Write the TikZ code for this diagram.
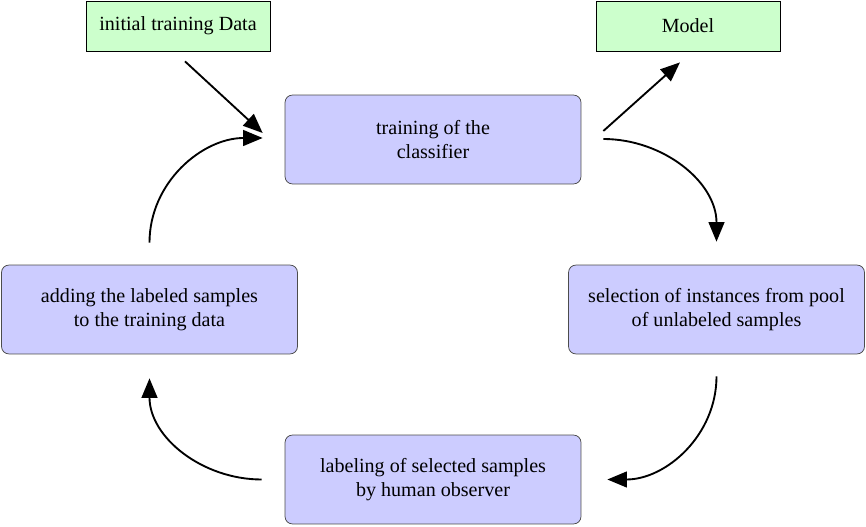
\documentclass[tikz,border=0pt]{standalone}
\usepackage{fontspec}
\setmainfont{Liberation Serif}
\usetikzlibrary{arrows.meta,calc}

\begin{document}
\begin{tikzpicture}
[x=0.5376pt,y=0.5376pt
,every node/.style={font=\fontsize{10.8pt}{12.9pt}\selectfont}
,io/.style={draw=black,fill=green!20,minimum width=98.9pt,minimum height=26.9pt,inner sep=0pt}
,stage/.style={draw=black!70,fill=blue!20,rounded corners=4pt,align=center,minimum width=159.1pt,minimum height=47.8pt,inner sep=0pt}
,flow/.style={draw=black,line width=1pt,arrows={-Triangle[length=10.5pt,width=8.5pt]}}
]
\useasboundingbox (0,0) rectangle (866,526);
\node[io] (data) at (178,500) {initial training Data};
\node[io] (model) at (688,500) {Model};
\node[stage] (train) at (433,386.5) {training of the\\classifier};
\node[stage] (select) at (716.5,216.5) {selection of instances from pool\\of unlabeled samples};
\node[stage] (label) at (433,46.5) {labeling of selected samples\\by human observer};
\node[stage] (add) at (149.5,216.5) {adding the labeled samples\\to the training data};
\draw[flow] ($(data.south)+(7,-10)$) -- ($(train.west)+(-22,6.5)$);
\draw[flow] ($(train.east)+(22,8.5)$) -- ($(model.south)+(-8,-11)$);
\draw[flow] ($(train.east)+(22,0.5)$) to[out=0,in=90] ($(select.north)+(0,23)$);
\draw[flow] ($(select.south)+(0,-22)$) to[out=-90,in=0] ($(label.east)+(26,0)$);
\draw[flow] ($(label.west)+(-23,0)$) to[out=180,in=-90] ($(add.south)+(0,-24)$);
\draw[flow] ($(add.north)+(0,22)$) to[out=90,in=180] ($(train.west)+(-22,1.5)$);
\end{tikzpicture}
\end{document}
